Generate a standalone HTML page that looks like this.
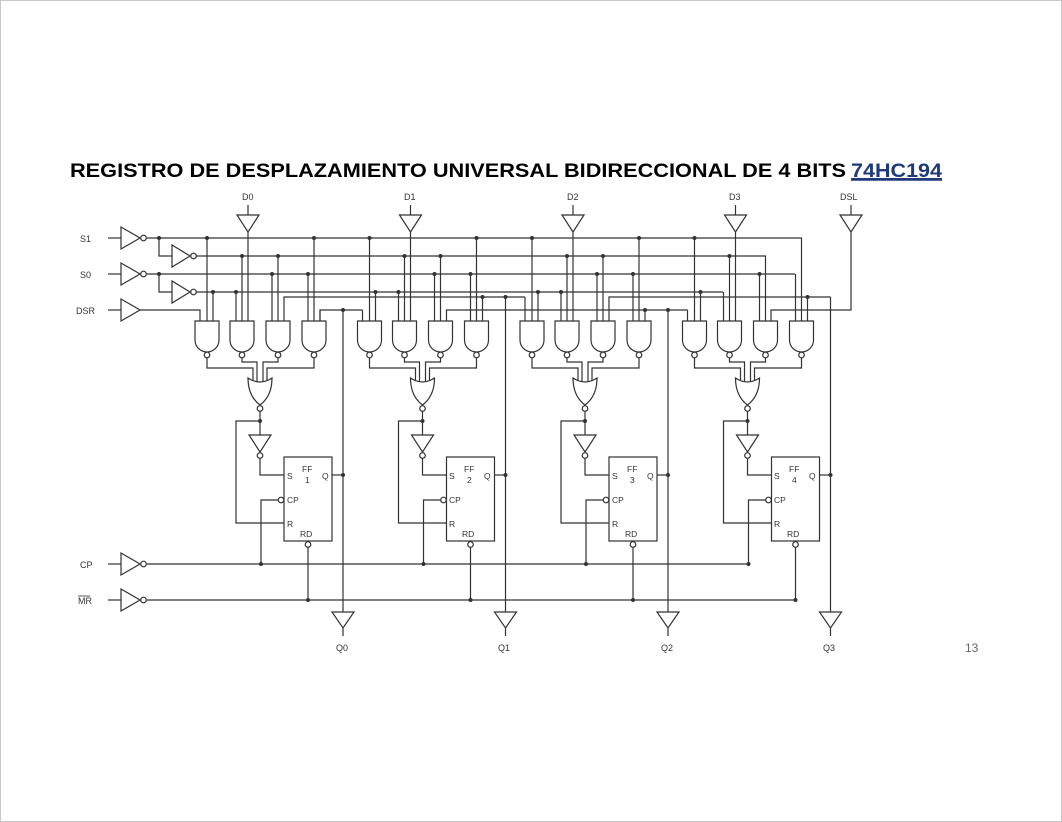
<!DOCTYPE html>
<html><head><meta charset="utf-8"><style>
html,body{margin:0;padding:0;background:#fff;}
svg{display:block;}
text{font-family:"Liberation Sans",Arial,sans-serif;}
</style></head><body>
<svg id="svg" width="1062" height="822" viewBox="0 0 1062 822" xmlns="http://www.w3.org/2000/svg">
<rect x="0.5" y="0.5" width="1061" height="821" fill="#fff" stroke="#c8c8c8"/>
<text x="70" y="177" font-size="19.5" font-weight="bold" fill="#000" textLength="776" lengthAdjust="spacingAndGlyphs">REGISTRO DE DESPLAZAMIENTO UNIVERSAL BIDIRECCIONAL DE 4 BITS</text>
<text x="851" y="177" font-size="19.5" font-weight="bold" fill="#1f3a7a" text-decoration="underline" textLength="91" lengthAdjust="spacingAndGlyphs">74HC194</text>
<line x1="851" y1="180" x2="942" y2="180" stroke="#1f3a7a" stroke-width="1.5"/>
<text x="965" y="652" font-size="12" fill="#666">13</text>
<g id="g" fill="none" stroke="#333" stroke-width="1.2"></g>
<g font-size="9" fill="#333">
<text x="80" y="242">S1</text>
<text x="80" y="278">S0</text>
<text x="76" y="314">DSR</text>
<text x="80" y="568">CP</text>
<text x="78" y="604">MR</text>
<text x="242" y="200">D0</text>
<text x="404" y="200">D1</text>
<text x="567" y="200">D2</text>
<text x="729" y="200">D3</text>
<text x="840" y="200">DSL</text>
<text x="336" y="651">Q0</text>
<text x="498" y="651">Q1</text>
<text x="661" y="651">Q2</text>
<text x="823" y="651">Q3</text>
<g font-size="8.5">
<text x="287" y="479">S</text><text x="302" y="472">FF</text><text x="305" y="483">1</text><text x="322" y="479">Q</text><text x="287" y="503">CP</text><text x="287" y="527">R</text><text x="300" y="537">RD</text>
<text x="449" y="479">S</text><text x="464" y="472">FF</text><text x="467" y="483">2</text><text x="484" y="479">Q</text><text x="449" y="503">CP</text><text x="449" y="527">R</text><text x="462" y="537">RD</text>
<text x="612" y="479">S</text><text x="627" y="472">FF</text><text x="630" y="483">3</text><text x="647" y="479">Q</text><text x="612" y="503">CP</text><text x="612" y="527">R</text><text x="625" y="537">RD</text>
<text x="774" y="479">S</text><text x="789" y="472">FF</text><text x="792" y="483">4</text><text x="809" y="479">Q</text><text x="774" y="503">CP</text><text x="774" y="527">R</text><text x="787" y="537">RD</text>
</g>
</g>
<line x1="78" y1="596" x2="90" y2="596" stroke="#333" stroke-width="0.8"/>
</svg>
<script>
var g=document.getElementById('g'),h='';
function P(p){h+='<polyline points="'+p.map(function(a){return a[0]+','+a[1]}).join(' ')+'"/>';}
function D(x,y){h+='<circle cx="'+x+'" cy="'+y+'" r="2" fill="#333" stroke="none"/>';}
function B(x,y){h+='<circle cx="'+x+'" cy="'+y+'" r="2.8" fill="#fff"/>';}
function TR(x1,x2,y){h+='<polygon points="'+x1+','+(y-11)+' '+x1+','+(y+11)+' '+x2+','+y+'" fill="#fff"/>';}
function TD(cx,y1,y2){h+='<polygon points="'+(cx-11)+','+y1+' '+(cx+11)+','+y1+' '+cx+','+y2+'" fill="#fff"/>';}
[[238,'s1'],[274,'s0'],[310,'d'],[564,'cp'],[600,'mr']].forEach(function(a){
 var y=a[0];P([[108,y],[121,y]]);TR(121,140,y);if(a[1]!='d')B(143.5,y);
});
P([[147,238],[802,238]]);P([[159,238],[159,256],[172,256]]);D(159,238);TR(172,190,256);B(193.5,256);P([[196.5,256],[766,256]]);
P([[147,274],[795,274]]);P([[159,274],[159,292],[172,292]]);D(159,274);TR(172,190,292);B(193.5,292);P([[196.5,292],[723,292]]);
P([[140,310],[200,310],[200,321]]);
P([[147,564],[748.5,564]]);P([[147,600],[795.5,600]]);
for(var s=0;s<4;s++){
 var o=162.5*s,gc=[207+o,242+o,278+o,314+o],n=260+o,qx=343+o;
 P([[gc[0],238],[gc[0],321]]);D(gc[0],238);
 P([[gc[0]+6,292],[gc[0]+6,321]]);D(gc[0]+6,292);
 P([[gc[1]-6,292],[gc[1]-6,321]]);if(s<3)D(gc[1]-6,292);
 P([[gc[1],256],[gc[1],321]]);D(gc[1],256);
 P([[gc[1]+6,232],[gc[1]+6,321]]);TD(gc[1]+6,215,232);P([[gc[1]+6,205],[gc[1]+6,215]]);
 P([[gc[2]-6,274],[gc[2]-6,321]]);D(gc[2]-6,274);
 P([[gc[2],256],[gc[2],321]]);if(s<3)D(gc[2],256);
 P([[gc[3]-6,274],[gc[3]-6,321]]);if(s<3)D(gc[3]-6,274);
 P([[gc[3],238],[gc[3],321]]);if(s<3)D(gc[3],238);
 var yl=(s%2)?297:310;
 var x1=s==0?gc[3]+6:(207+162.5*(s-1)+71+6), x2=s==3?qx:(207+162.5*(s+1)-7);
 P([[x1,321],[x1,yl],[x2,yl]]);if(s<3)P([[x2,yl],[x2,321]]);
 P([[gc[3]+6,yl],[gc[3]+6,321]]);if(s>0)D(gc[3]+6,yl);
 P([[qx,yl],[qx,612]]);if(s<3)D(qx,yl);
 gc.forEach(function(c){h+='<path d="M'+(c-12)+' 321 H'+(c+12)+' V340 A12 12 0 0 1 '+(c-12)+' 340 Z" fill="#fff"/>';B(c,355);});
 P([[gc[0],358],[gc[0],368],[n-7,368],[n-7,381]]);
 P([[gc[3],358],[gc[3],368],[n+7,368],[n+7,381]]);
 P([[gc[1],358],[gc[1],362],[n-3,362],[n-3,382]]);
 P([[gc[2],358],[gc[2],362],[n+3,362],[n+3,382]]);
 h+='<path d="M'+(n-12)+' 378 Q'+n+' 386 '+(n+12)+' 378 Q'+(n+12)+' 396 '+n+' 405 Q'+(n-12)+' 396 '+(n-12)+' 378 Z" fill="#fff"/>';
 B(n,408.5);
 P([[n,411.5],[n,435]]);D(n,421);
 P([[n,421],[236+o,421],[236+o,523],[284+o,523]]);
 TD(n,435,452);B(n,455.5);P([[n,458.5],[n,475],[284+o,475]]);
 h+='<rect x="'+(284+o)+'" y="457" width="48" height="84" fill="none"/>';
 P([[261+o,564],[261+o,500],[278+o,500]]);B(281+o,500);D(261+o,564);
 B(308+o,544.5);P([[308+o,547.5],[308+o,600]]);D(308+o,600);
 P([[332+o,475],[qx,475]]);D(qx,475);
 TD(qx,612,628);P([[qx,628],[qx,636]]);
}
P([[771,321],[771,310],[851,310],[851,232]]);TD(851,215,232);P([[851,205],[851,215]]);
g.innerHTML=h;
</script>
</body></html>
